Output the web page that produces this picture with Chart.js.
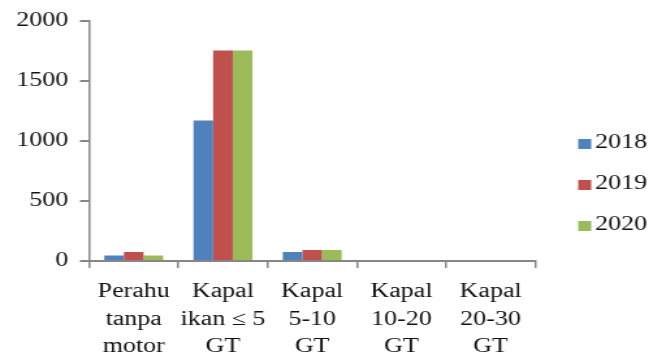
<!DOCTYPE html>
<html>
<head>
<meta charset="utf-8">
<script src="https://cdn.jsdelivr.net/npm/chart.js@4"></script>
<style>
  html, body { margin: 0; padding: 0; background: #fff; }
  /* the reference figure is stretched sideways, so draw narrow and scale */
  #wrap { width: 512px; height: 360px; transform: scale(1.30078, 1); transform-origin: 0 0; }
</style>
</head>
<body>
<div id="wrap"><canvas id="chart" width="512" height="360"></canvas></div>
<script>
// Data
const categories = [
  ['Perahu', 'tanpa', 'motor'],
  ['Kapal', 'ikan \u2264 5', 'GT'],
  ['Kapal', '5-10', 'GT'],
  ['Kapal', '10-20', 'GT'],
  ['Kapal', '20-30', 'GT']
];
const years = ['2018', '2019', '2020'];
const values2018 = [45, 1170, 75, 0, 0];
const values2019 = [75, 1755, 92, 0, 0];
const values2020 = [45, 1755, 92, 0, 0];
const yTicks = [0, 500, 1000, 1500, 2000];

const colors = ['#4F81BD', '#C0504D', '#9BBB59'];
const axisColor = '#868686';
const textColor = '#111';
const font = { family: '"Liberation Serif", "Times New Roman", serif', size: 20 };

// Legend on the right, drawn from the datasets
const sideLegend = {
  id: 'sideLegend',
  afterDraw(chart) {
    const ctx = chart.ctx;
    const x = chart.chartArea.right + 33;
    ctx.save();
    ctx.font = `${font.size}px ${font.family}`;
    ctx.textBaseline = 'middle';
    chart.data.datasets.forEach((ds, i) => {
      const y = chart.height / 2 + 4 + (i - 1) * 41;
      ctx.fillStyle = ds.backgroundColor;
      ctx.fillRect(x, y - 4, 10, 10);
      ctx.fillStyle = textColor;
      ctx.fillText(ds.label, x + 13, y);
    });
    ctx.restore();
  }
};

new Chart(document.getElementById('chart'), {
  type: 'bar',
  data: {
    labels: categories,
    datasets: [
      { label: years[0], data: values2018, backgroundColor: colors[0] },
      { label: years[1], data: values2019, backgroundColor: colors[1] },
      { label: years[2], data: values2020, backgroundColor: colors[2] }
    ]
  },
  options: {
    responsive: false,
    animation: false,
    devicePixelRatio: 1,
    layout: { padding: { top: 19, right: 100.5, left: 0, bottom: 0 } },
    datasets: { bar: { categoryPercentage: 0.66, barPercentage: 1 } },
    plugins: {
      legend: { display: false },
      tooltip: { enabled: false }
    },
    scales: {
      x: {
        grid: { offset: true, drawOnChartArea: false, drawTicks: true, tickLength: 7, color: axisColor, lineWidth: 1.5 },
        border: { color: axisColor, width: 2 },
        ticks: { color: textColor, font: { ...font, lineHeight: 1.375 }, padding: 10, maxRotation: 0, autoSkip: false },
        afterFit(scale) { scale.height = 99; }
      },
      y: {
        min: yTicks[0],
        max: yTicks[yTicks.length - 1],
        afterBuildTicks(scale) { scale.ticks = yTicks.map(v => ({ value: v })); },
        grid: { drawOnChartArea: false, drawTicks: true, tickLength: 7, color: axisColor, lineWidth: 2 },
        border: { color: axisColor, width: 1.5 },
        ticks: { color: textColor, font: font, padding: 9, callback: v => String(v) },
        afterFit(scale) { scale.width = 68.5; }
      }
    }
  },
  plugins: [sideLegend]
});
</script>
</body>
</html>
